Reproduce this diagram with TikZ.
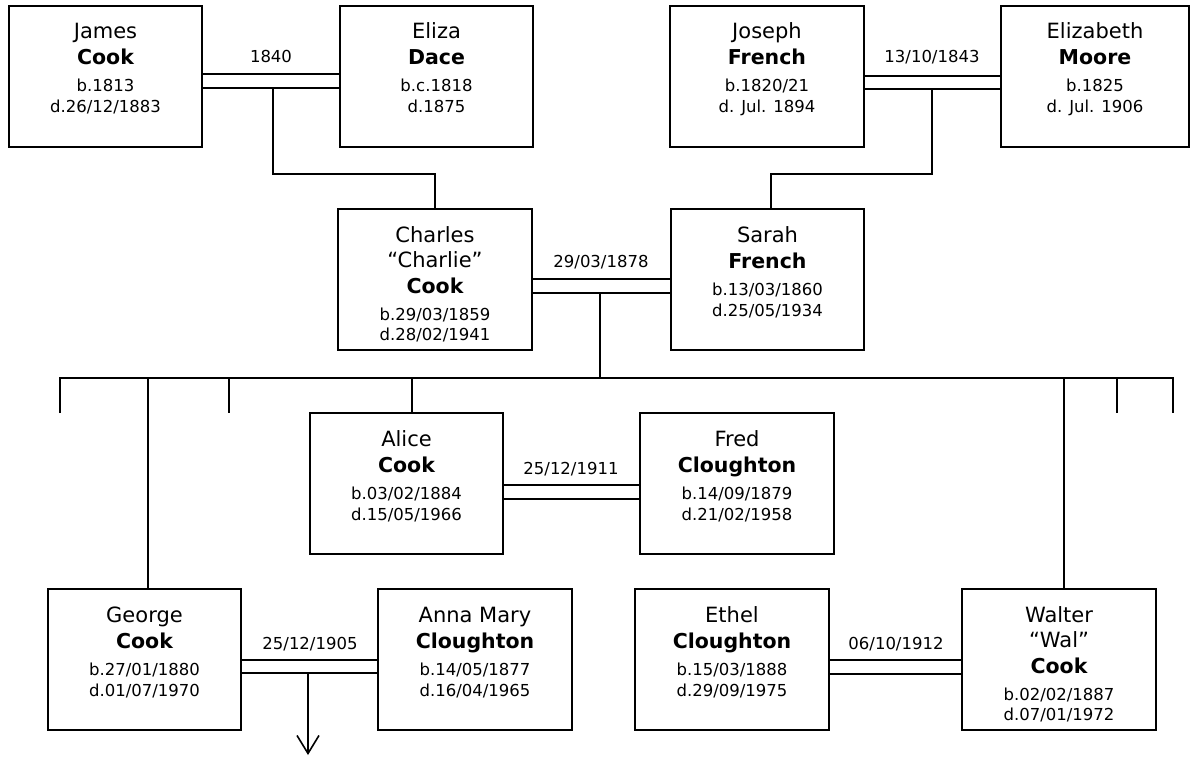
\documentclass[tikz,border=0pt]{standalone}
\usepackage{fontspec}
\setmainfont{DejaVu Sans}
\usetikzlibrary{arrows.meta}

\tikzset{
  personbox/.style={draw, line width=1.6pt, inner sep=0pt, outer sep=0pt},
  given/.style={anchor=base, inner sep=0pt, font=\fontsize{21}{25}\selectfont},
  surname/.style={anchor=base, inner sep=0pt, font=\fontsize{20.5}{24}\selectfont\bfseries},
  lifedate/.style={anchor=base, inner sep=0pt, font=\fontsize{16.5}{20}\selectfont},
  wedding/.style={anchor=base, inner sep=0pt, font=\fontsize{16.5}{20}\selectfont},
  link/.style={line width=1.6pt},
}

% person box with four text lines
% #1 id, #2 centre x, #3 top y, #4 width, #5 given name, #6 surname, #7 born, #8 died
\newcommand\personfour[8]{%
  \node[personbox, minimum width=#4pt, minimum height=141pt] (#1) at (#2,#3+70.5) {};
  \node[given]    (#1-given)   at (#2,#3+33)  {#5};
  \node[surname]  (#1-surname) at (#2,#3+59)  {#6};
  \node[lifedate] (#1-born)    at (#2,#3+86)  {#7};
  \node[lifedate] (#1-died)    at (#2,#3+107) {#8};
}
% person box with a nickname line
% #1 id, #2 centre x, #3 top y, #4 width, #5 given, #6 nickname, #7 surname, #8 born, #9 died
\newcommand\personfive[9]{%
  \node[personbox, minimum width=#4pt, minimum height=141pt] (#1) at (#2,#3+70.5) {};
  \node[given]    (#1-given)   at (#2,#3+33)  {#5};
  \node[given]    (#1-nick)    at (#2,#3+58)  {#6};
  \node[surname]  (#1-surname) at (#2,#3+84)  {#7};
  \node[lifedate] (#1-born)    at (#2,#3+111) {#8};
  \node[lifedate] (#1-died)    at (#2,#3+131) {#9};
}

\begin{document}
\begin{tikzpicture}[x=1pt,y=-1pt]
\fill[white] (0,0) rectangle (1191,757);
\useasboundingbox (0,0) rectangle (1191,757);

% grandparents
\personfour{jcook}{105.5}{6}{193}{James}{Cook}{b.1813}{d.26/12/1883}
\personfour{edace}{436.5}{6}{193}{Eliza}{Dace}{b.c.1818}{d.1875}
\personfour{jfrench}{767}{6}{194}{Joseph}{French}{b.1820/21}{d. Jul. 1894}
\personfour{emoore}{1095}{6}{188}{Elizabeth}{Moore}{b.1825}{d. Jul. 1906}

% parents
\personfive{ccook}{435}{209}{194}{Charles}{“Charlie”}{Cook}{b.29/03/1859}{d.28/02/1941}
\personfour{sfrench}{767.5}{209}{193}{Sarah}{French}{b.13/03/1860}{d.25/05/1934}

% children and spouses
\personfour{acook}{406.5}{413}{193}{Alice}{Cook}{b.03/02/1884}{d.15/05/1966}
\personfour{fcloughton}{737}{413}{194}{Fred}{Cloughton}{b.14/09/1879}{d.21/02/1958}
\personfour{gcook}{144.5}{589}{193}{George}{Cook}{b.27/01/1880}{d.01/07/1970}
\personfour{amcloughton}{475}{589}{194}{Anna Mary}{Cloughton}{b.14/05/1877}{d.16/04/1965}
\personfour{ecloughton}{732}{589}{194}{Ethel}{Cloughton}{b.15/03/1888}{d.29/09/1975}
\personfive{wcook}{1059}{589}{194}{Walter}{“Wal”}{Cook}{b.02/02/1887}{d.07/01/1972}

% marriages: double lines with the date above
\draw[link] (jcook.east |- 0,74) -- (edace.west |- 0,74);
\draw[link] (jcook.east |- 0,88) -- (edace.west |- 0,88);
\node[wedding] (wed-cook) at (271,63) {1840};

\draw[link] (jfrench.east |- 0,76) -- (emoore.west |- 0,76);
\draw[link] (jfrench.east |- 0,89) -- (emoore.west |- 0,89);
\node[wedding] (wed-french) at (932,63) {13/10/1843};

\draw[link] (ccook.east |- 0,279) -- (sfrench.west |- 0,279);
\draw[link] (ccook.east |- 0,293) -- (sfrench.west |- 0,293);
\node[wedding] (wed-cs) at (601,267) {29/03/1878};

\draw[link] (acook.east |- 0,485) -- (fcloughton.west |- 0,485);
\draw[link] (acook.east |- 0,499) -- (fcloughton.west |- 0,499);
\node[wedding] (wed-af) at (571,474) {25/12/1911};

\draw[link] (gcook.east |- 0,660) -- (amcloughton.west |- 0,660);
\draw[link] (gcook.east |- 0,673) -- (amcloughton.west |- 0,673);
\node[wedding] (wed-ga) at (310,649) {25/12/1905};

\draw[link] (ecloughton.east |- 0,660) -- (wcook.west |- 0,660);
\draw[link] (ecloughton.east |- 0,674) -- (wcook.west |- 0,674);
\node[wedding] (wed-ew) at (896,649) {06/10/1912};

% descent from the grandparents
\coordinate (cook-fork) at (273,88);
\draw[link] (cook-fork) -- (273,174) -| (ccook.north);
\coordinate (french-fork) at (932,89);
\draw[link] (french-fork) -- (932,174) -| (sfrench.north -| 771,0);

% children of Charles and Sarah
\coordinate (cs-fork) at (600,293);
\coordinate (bar-left) at (60,413);
\coordinate (bar-right) at (1173,413);
\draw[link] (cs-fork) -- (600,378);
\draw[link] (bar-left) -- (60,378) -- (1173,378) -- (bar-right);
\coordinate (kid-a) at (229,413);
\coordinate (kid-b) at (1117,413);
\draw[link] (229,378) -- (kid-a);
\draw[link] (1117,378) -- (kid-b);
\draw[link] (148,378) -- (gcook.north -| 148,0);
\draw[link] (412,378) -- (acook.north -| 412,0);
\draw[link] (1064,378) -- (wcook.north -| 1064,0);

% issue of George and Anna Mary
\coordinate (ga-fork) at (308,673);
\coordinate (ga-issue) at (308,755);
\draw[link, -{Straight Barb[length=18pt,width=22pt]}] (ga-fork) -- (ga-issue);
\end{tikzpicture}
\end{document}
